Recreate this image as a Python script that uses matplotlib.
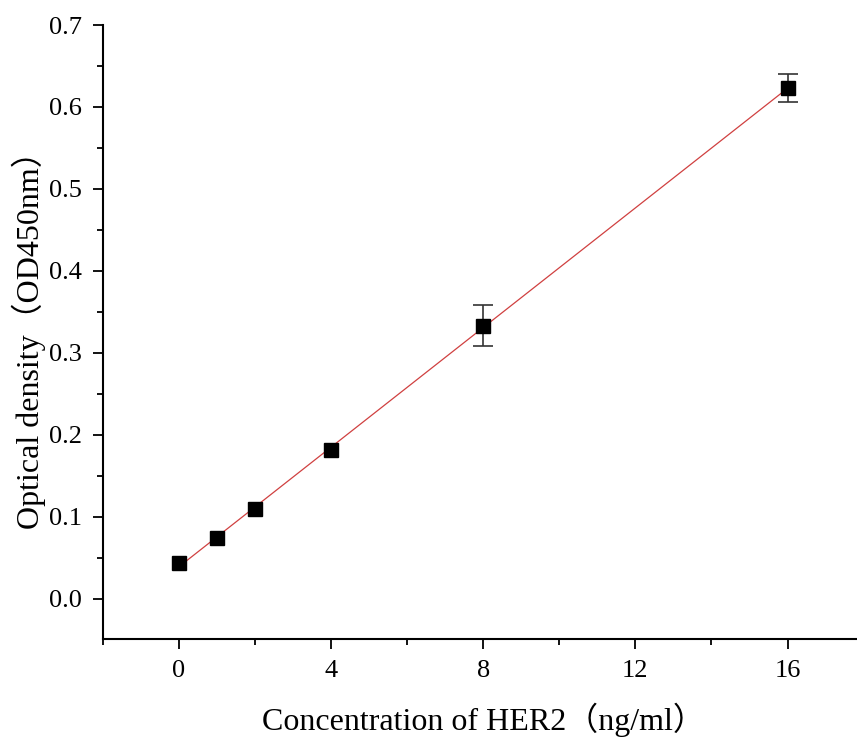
import numpy as np
import matplotlib.pyplot as plt
from matplotlib.ticker import MultipleLocator

# data
conc = [0, 1, 2, 4, 8, 16]
od = [0.044, 0.074, 0.109, 0.182, 0.333, 0.623]
od_err = [np.nan, np.nan, np.nan, np.nan, 0.025, 0.017]  # bars hidden under markers

plt.rcParams['font.family'] = ['Liberation Serif', 'Noto Sans CJK SC']

fig = plt.figure(figsize=(8.57, 7.4), dpi=100)
ax = fig.add_axes([0.1198, 0.1365, 0.8880, 0.8297])

# linear fit
k, b = np.polyfit(conc, od, 1)
xs = np.array([min(conc), max(conc)])
ax.plot(xs, k * xs + b, color='#d04040', lw=0.9, zorder=2)

ax.errorbar(conc, od, yerr=od_err, fmt='s', color='black', ms=9.5,
            ecolor='#333333', elinewidth=1.2, capsize=7, capthick=1.2, zorder=3)

ax.set_xlim(-2, 18)
ax.set_ylim(-0.049, 0.7)
ax.xaxis.set_minor_locator(MultipleLocator(2))
ax.yaxis.set_minor_locator(MultipleLocator(0.05))
ax.set_yticks(np.arange(0, 0.71, 0.1))
ax.set_yticklabels(['%.1f' % v for v in np.arange(0, 0.71, 0.1)])
ax.set_xticks([0, 4, 8, 12, 16])

for s in ['top', 'right']:
    ax.spines[s].set_visible(False)
for s in ['left', 'bottom']:
    ax.spines[s].set_linewidth(1.5)

ax.tick_params(which='major', direction='out', length=7, width=1.3, labelsize=19, pad=8)
ax.tick_params(which='minor', direction='out', length=4.5, width=1.3)

ax.set_xlabel('Concentration of HER2（ng/ml）', fontsize=23, labelpad=15)
ax.set_ylabel('Optical density（OD450nm）', fontsize=23, labelpad=2)

fig.savefig('out.png', dpi=100)
